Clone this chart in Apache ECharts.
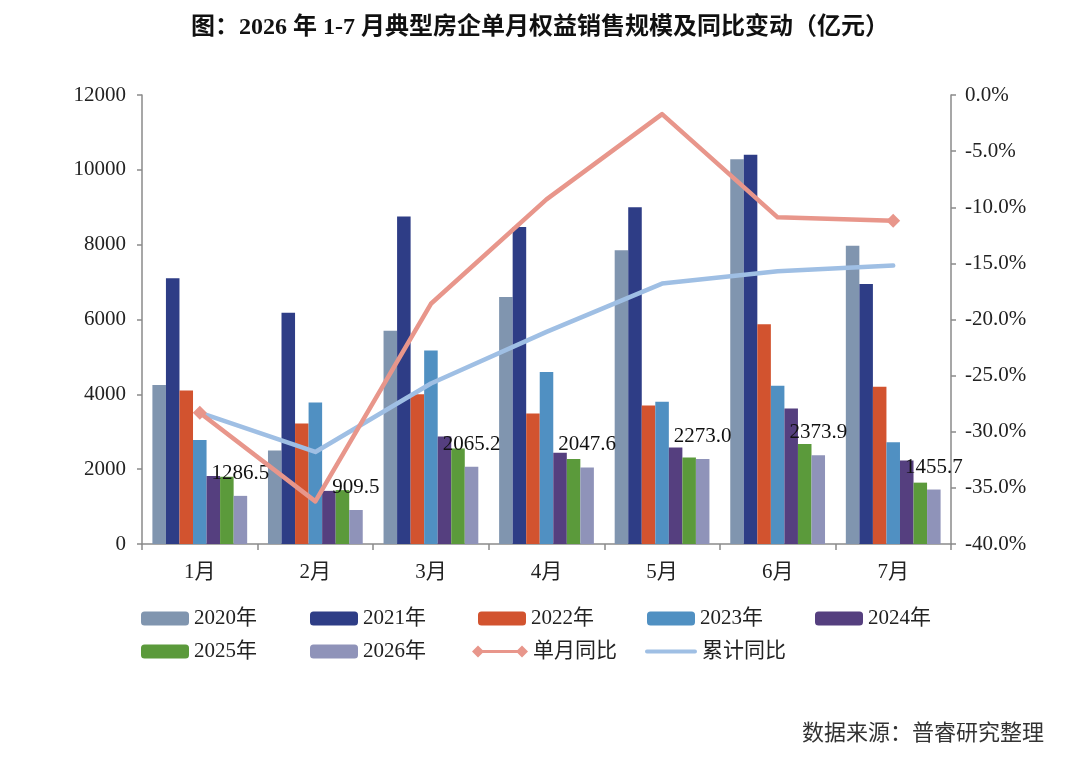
<!DOCTYPE html>
<html>
<head>
<meta charset="utf-8">
<script src="https://cdn.jsdelivr.net/npm/echarts@6/dist/echarts.min.js"></script>
<style>
  html, body { margin: 0; padding: 0; background: #fff; }
  #main { width: 1080px; height: 780px; }
</style>
</head>
<body>
<div id="main"></div>
<script>
// 横轴月份
var months = ['1月', '2月', '3月', '4月', '5月', '6月', '7月']
// 各年份单月权益销售额（亿元）
var y2020 = [4250, 2500, 5700, 6600, 7850, 10280, 7970]
var y2021 = [7100, 6180, 8750, 8470, 9000, 10400, 6950]
var y2022 = [4100, 3220, 4000, 3490, 3700, 5870, 4200]
var y2023 = [2780, 3780, 5170, 4600, 3800, 4230, 2720]
var y2024 = [1820, 1420, 2870, 2440, 2580, 3620, 2230]
var y2025 = [1800, 1440, 2550, 2270, 2310, 2670, 1640]
var y2026 = [1286.5, 909.5, 2065.2, 2047.6, 2273.0, 2373.9, 1455.7]
// 同比（%）
var danYue = [-28.3, -36.2, -18.6, -9.3, -1.7, -10.9, -11.2]
var leiJi = [-28.3, -31.8, -25.7, -21.1, -16.8, -15.7, -15.2]

var serif = "'Liberation Serif', 'DejaVu Serif', 'Noto Sans CJK SC', serif"
var barNames = ['2020年', '2021年', '2022年', '2023年', '2024年', '2025年', '2026年']
var barData = [y2020, y2021, y2022, y2023, y2024, y2025, y2026]
var barColors = ['#8095af', '#2e3d86', '#d2532f', '#5090c2', '#553f7f', '#5b9a3b', '#8f93b9']
var redColor = '#e8968b'
var blueColor = '#9fbfe4'

var series = []
for (var i = 0; i < barNames.length; i++) {
    var s = {
        name: barNames[i],
        type: 'bar',
        data: barData[i],
        barGap: '0%',
        barCategoryGap: '18%',
        itemStyle: { color: barColors[i] }
    }
    // 只有2026年显示数值
    if (i == barNames.length - 1) {
        s.label = {
            show: true,
            position: 'top',
            distance: 12,
            color: '#111',
            fontFamily: serif,
            fontSize: 21,
            formatter: function (p) { return p.value.toFixed(1) }
        }
    }
    series.push(s)
}
// 单月同比 首尾带菱形点
var last = danYue.length - 1
series.push({
    name: '单月同比',
    type: 'line',
    yAxisIndex: 1,
    z: 5,
    symbol: 'diamond',
    symbolSize: 14,
    data: danYue.map(function (v, k) {
        return { value: v, symbol: (k == 0 || k == last) ? 'diamond' : 'none' }
    }),
    lineStyle: { color: redColor, width: 4.5, cap: 'round', join: 'round' },
    itemStyle: { color: redColor }
})
series.push({
    name: '累计同比',
    type: 'line',
    yAxisIndex: 1,
    z: 4,
    symbol: 'none',
    data: leiJi,
    lineStyle: { color: blueColor, width: 4.5, cap: 'round', join: 'round' },
    itemStyle: { color: blueColor }
})

// 图例位置（两行）
var legendNames = barNames.concat(['单月同比', '累计同比'])
var legendLeft = [136, 305, 473, 642, 810, 136, 305, 467, 640]
var legendTop = [603, 603, 603, 603, 603, 636, 636, 636, 636]
// 折线图例图标：单月同比两端菱形，累计同比只有线
var redIcon = 'path://M0,6 L6,0 L12,6 L6,12 Z M6,4.5 L50,4.5 L50,7.5 L6,7.5 Z M44,6 L50,0 L56,6 L50,12 Z'
var blueIcon = 'path://M2,0 L52,0 A2,2 0 0 1 52,4 L2,4 A2,2 0 0 1 2,0 Z'
var legends = legendNames.map(function (n, k) {
    var item = { name: n }
    var w = 48, h = 14
    if (n == '单月同比') { item.icon = redIcon; w = 56; h = 12 }
    if (n == '累计同比') { item.icon = blueIcon; w = 52; h = 5 }
    return {
        data: [item],
        left: legendLeft[k],
        top: legendTop[k],
        itemWidth: w,
        itemHeight: h,
        itemGap: 6,
        textStyle: { fontFamily: serif, fontSize: 21, color: '#222' }
    }
})

var axisLineStyle = { show: true, lineStyle: { color: '#8a8a8a', width: 1.5 } }

var option = {
    backgroundColor: '#fff',
    animation: false,
    title: {
        text: '图：2026 年 1-7 月典型房企单月权益销售规模及同比变动（亿元）',
        left: 'center',
        top: 11,
        textStyle: { fontFamily: serif, fontSize: 24, fontWeight: 'bold', color: '#111' }
    },
    graphic: [{
        type: 'text',
        right: 36,
        top: 721,
        style: { text: '数据来源：普睿研究整理', font: "22px 'Noto Sans CJK SC'", fill: '#333' }
    }],
    legend: legends,
    grid: { left: 142, right: 129, top: 95, bottom: 236 },
    xAxis: {
        type: 'category',
        data: months,
        axisLine: axisLineStyle,
        axisTick: { show: true, length: 6, lineStyle: { color: '#8a8a8a', width: 1.5 } },
        axisLabel: { fontFamily: serif, fontSize: 21, color: '#222', margin: 18 }
    },
    yAxis: [{
        type: 'value',
        min: 0,
        max: 12000,
        interval: 2000,
        splitLine: { show: false },
        axisLine: axisLineStyle,
        axisTick: { show: true, length: 5, lineStyle: { color: '#8a8a8a', width: 1.5 } },
        axisLabel: {
            fontFamily: serif, fontSize: 21, color: '#222', margin: 16,
            formatter: function (v) { return String(v) }
        }
    }, {
        type: 'value',
        min: -40,
        max: 0,
        interval: 5,
        splitLine: { show: false },
        axisLine: axisLineStyle,
        axisTick: { show: true, length: 5, lineStyle: { color: '#8a8a8a', width: 1.5 } },
        axisLabel: {
            fontFamily: serif, fontSize: 21, color: '#222', margin: 14,
            formatter: function (v) { return v.toFixed(1) + '%' }
        }
    }],
    series: series
}

var chart = echarts.init(document.getElementById('main'))
chart.setOption(option)
</script>
</body>
</html>
